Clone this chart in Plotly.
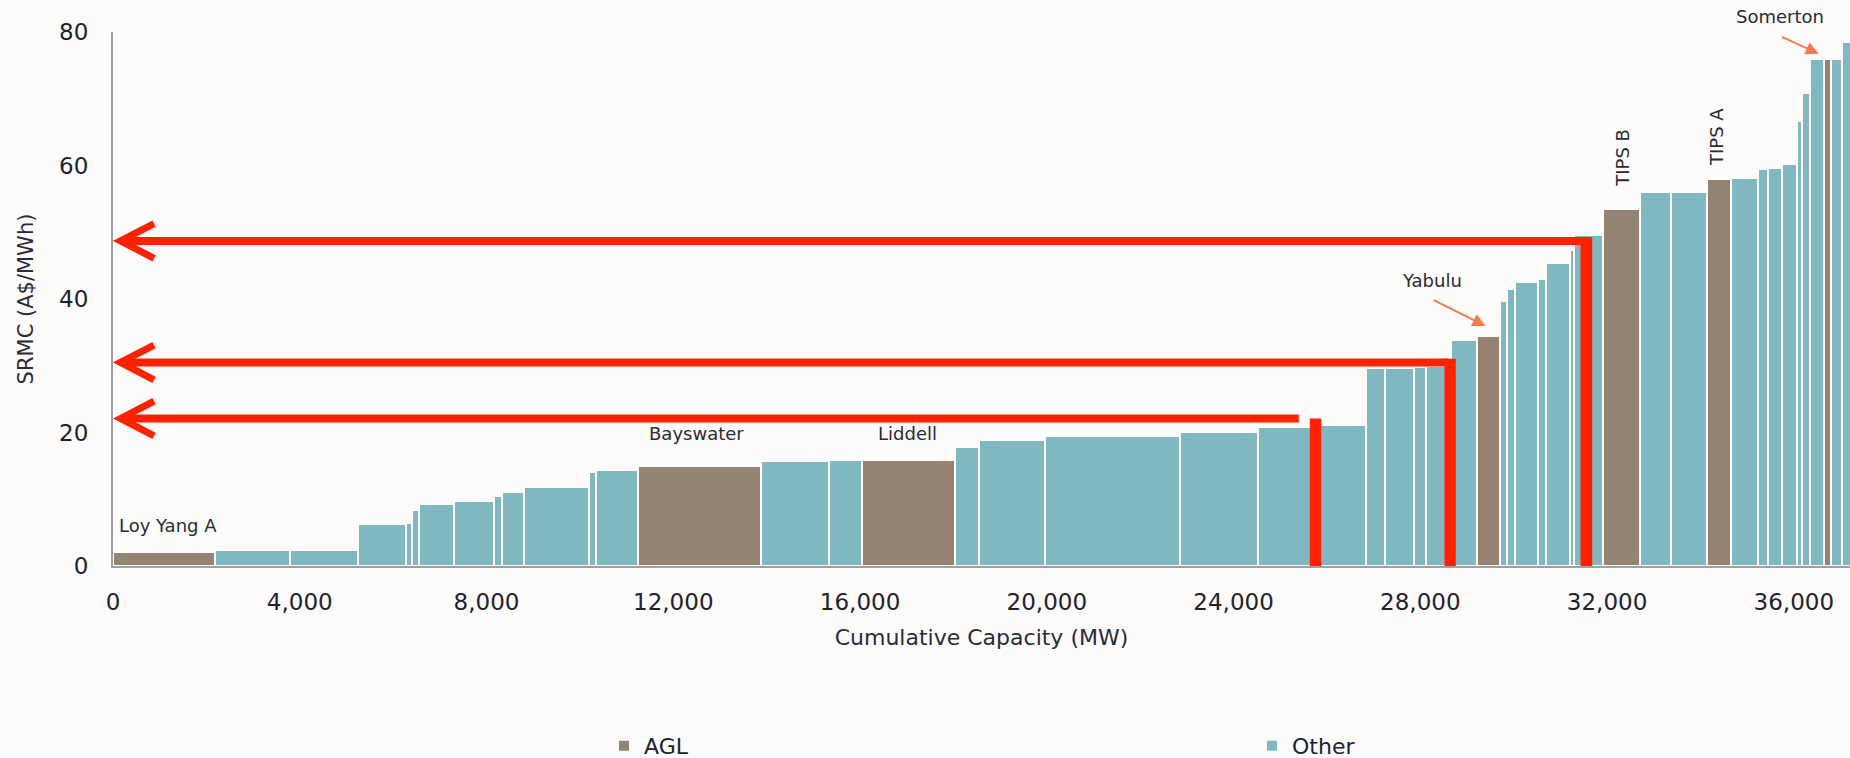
import numpy as np
import plotly.graph_objects as go

# ---------------- data ----------------
capacity_mw = [2178, 1608, 1471, 1008, 145, 134, 766, 853, 176, 455,
               1397, 147, 899, 2641, 1454, 702, 2004, 520, 1407, 2882,
               1670, 1331, 988, 397, 642, 236, 539, 560, 496, 147,
               171, 507, 164, 510, 95, 613, 795, 665, 770, 511,
               575, 221, 293, 320, 108, 175, 308, 143, 239, 564]
srmc = [2.1, 2.4, 2.4, 6.3, 6.5, 8.4, 9.3, 9.7, 10.5, 11.1,
        11.9, 14.1, 14.4, 15.0, 15.8, 15.9, 15.9, 17.8, 18.9, 19.5,
        20.1, 20.8, 21.1, 29.6, 29.6, 29.8, 29.95, 33.8, 34.5, 39.7,
        41.5, 42.6, 43.0, 45.4, 47.4, 49.6, 53.5, 56.0, 56.0, 58.0,
        58.2, 59.5, 59.7, 60.3, 66.7, 70.8, 76.0, 76.0, 76.0, 78.5]
owner = ["AGL", "Other", "Other", "Other", "Other", "Other", "Other", "Other", "Other", "Other",
         "Other", "Other", "Other", "AGL", "Other", "Other", "AGL", "Other", "Other", "Other",
         "Other", "Other", "Other", "Other", "Other", "Other", "Other", "Other", "AGL", "Other",
         "Other", "Other", "Other", "Other", "Other", "Other", "AGL", "Other", "Other", "AGL",
         "Other", "Other", "Other", "Other", "Other", "Other", "Other", "AGL", "Other", "Other"]

x_ticks = [0, 4000, 8000, 12000, 16000, 20000, 24000, 28000, 32000, 36000]
y_ticks = [0, 20, 40, 60, 80]

# plant labels: (text, x MW, y SRMC, angle)
plant_labels = [("Loy Yang A", 75, 6.1, 0), ("Bayswater", 12500, 19.9, 0),
                ("Liddell", 17010, 19.9, 0), ("Yabulu", 28260, 42.8, 0),
                ("TIPS B", 32324, 61.2, -90), ("TIPS A", 34359, 64.3, -90),
                ("Somerton", 35714, 82.3, 0)]
# orange pointer arrows: (tail x, tail y, head x, head y)
pointers = [(28255, 39.96, 29396, 35.96), (35714, 79.36, 36534, 76.75)]

# red price arrows
red_level = [22.1, 30.5, 48.7]
red_line_end = [25397, 28600, 31500]
red_bar_x0 = [25633, 28518, 31431]
red_bar_x1 = [25877, 28760, 31682]
red_bar_top = [22.1, 31.05, 49.3]

# ---------------- style ----------------
BG = "#fdfcfb"
C_AGL = "#948372"
C_OTHER = "#80b8c1"
RED = "#ff2200"
ORANGE = "#f47a50"
FONT = "DejaVu Sans"
TXT = "#1e2130"

Y_MAX = 80

cap = np.array(capacity_mw, dtype=float)
starts = np.concatenate([[0.0], np.cumsum(cap)[:-1]])
centers = starts + cap / 2
vals = np.array(srmc)
own = np.array(owner)

fig = go.Figure()
for name, col in [("AGL", C_AGL), ("Other", C_OTHER)]:
    m = own == name
    fig.add_trace(go.Bar(
        x=centers[m], y=vals[m], width=cap[m], name=name,
        marker=dict(color=col, line=dict(color=BG, width=2)),
        hoverinfo="x+y"))

shapes = []
tip_x = 160
arm_dx = 720
arm_dy = 2.6
for lvl, xe, bx0, bx1, bt in zip(red_level, red_line_end, red_bar_x0, red_bar_x1, red_bar_top):
    shapes.append(dict(type="line", xref="x", yref="y", x0=tip_x + 120, x1=xe, y0=lvl, y1=lvl,
                       line=dict(color=RED, width=8), layer="above"))
    shapes.append(dict(type="path", xref="x", yref="y",
                       path=f"M {tip_x + arm_dx},{lvl + arm_dy} L {tip_x},{lvl} L {tip_x + arm_dx},{lvl - arm_dy}",
                       line=dict(color=RED, width=7), layer="above"))
    shapes.append(dict(type="rect", xref="x", yref="y", x0=bx0, x1=bx1, y0=0, y1=bt,
                       fillcolor=RED, line=dict(width=0), layer="above"))

annotations = []
for txt, x, y, ang in plant_labels:
    inside = y <= Y_MAX
    annotations.append(dict(x=x, y=y if inside else y / Y_MAX, xref="x",
                            yref="y" if inside else "paper", text=txt, showarrow=False,
                            textangle=ang, xanchor="left" if txt == "Loy Yang A" else "center",
                            yanchor="middle", font=dict(family=FONT, size=18, color="#2b2b35")))
for tx, ty, hx, hy in pointers:
    annotations.append(dict(x=hx, y=hy, ax=tx, ay=ty, xref="x", yref="y", axref="x", ayref="y",
                            text="", showarrow=True, arrowhead=2, arrowsize=1.3, arrowwidth=2,
                            arrowcolor=ORANGE))

x_max = (1850 - 113) / 0.04669

fig.update_layout(
    width=1850, height=758,
    margin=dict(l=113, r=0, t=32, b=192, autoexpand=False),
    paper_bgcolor=BG, plot_bgcolor=BG,
    barmode="overlay", bargap=0,
    font=dict(family=FONT, color=TXT, size=22),
    shapes=shapes, annotations=annotations,
    showlegend=True,
    legend=dict(orientation="h", x=(604 - 113) / 1737, y=(566 - 746) / 534,
                xanchor="left", yanchor="middle", entrywidth=603,
                font=dict(family=FONT, size=22, color=TXT), bgcolor="rgba(0,0,0,0)"),
    xaxis=dict(range=[0, x_max], tickvals=x_ticks,
               ticktext=[f"{v:,}" for v in x_ticks],
               showgrid=False, zeroline=False, showline=True, linecolor="#a0a0a0",
               linewidth=2, ticks="", tickfont=dict(size=23, color=TXT),
               ticklabelstandoff=14,
               title=dict(text="Cumulative Capacity (MW)", font=dict(size=22, color="#2a2a3a"),
                          standoff=16)),
    yaxis=dict(range=[0, Y_MAX], tickvals=y_ticks, showgrid=False, zeroline=False,
               showline=True, linecolor="#a0a0a0", linewidth=2, ticks="",
               tickfont=dict(size=23, color=TXT), ticklabelstandoff=18,
               title=dict(text="SRMC (A$/MWh)", font=dict(size=21, color="#2a2a3a"),
                          standoff=20)),
)

fig.write_html("out.html",
               config={"displayModeBar": False},
               post_script="document.body.style.margin='0';document.body.style.overflow='hidden';"
                           f"document.body.style.background='{BG}';")
